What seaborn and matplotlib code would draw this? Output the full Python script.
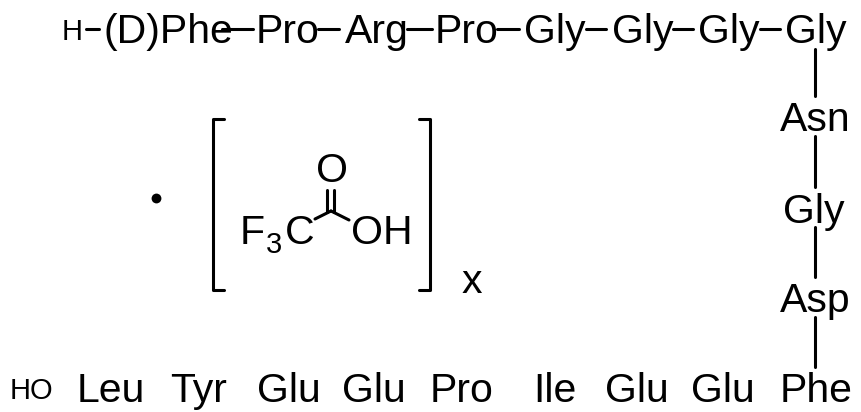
# Peptide structure drawing, pixel coordinates
import pandas as pd
from matplotlib import pyplot as plt
import seaborn as sns

# residue labels
residues = ["(D)Phe", "Pro", "Arg", "Pro", "Gly", "Gly", "Gly", "Gly",
            "Asn", "Gly", "Asp", "Phe",
            "Glu", "Glu", "Ile", "Pro", "Glu", "Glu", "Tyr", "Leu"]
residue_x = [104, 256, 345, 435, 524, 612, 698, 785,
             780, 783, 780, 780,
             691, 605, 533, 430, 342, 257, 170, 77]
residue_y = [43, 43, 43, 43, 43, 43, 43, 43,
             131, 223, 312, 402,
             402, 402, 402, 402, 402, 402, 402, 402]

# small end groups
end_labels = ["H", "HO"]
end_x = [62, 10]
end_y = [40, 399]

# acid part
acid_labels = ["O", "F", "C", "OH", "x"]
acid_x = [316, 240, 285, 351, 462]
acid_y = [182, 244, 244, 244, 293]
sub_label = "3"
sub_x = 266
sub_y = 253

# bonds and brackets as from/to pairs
bond_x0 = [86, 222, 318, 407, 497, 586, 673, 760, 815, 815, 815, 815, 327, 334, 331, 331]
bond_x1 = [99, 253, 339, 432, 519, 606, 693, 780, 815, 815, 815, 815, 327, 334, 315, 349]
bond_y0 = [29, 29, 29, 29, 29, 29, 29, 29, 49, 136, 227, 317, 190, 190, 211, 211]
bond_y1 = [29, 29, 29, 29, 29, 29, 29, 29, 96, 187, 277, 367, 212, 212, 219, 220]

left_bracket_x = [224, 213, 213, 224]
right_bracket_x = [419, 430, 430, 419]
bracket_y = [119, 119, 290, 290]

dot_x = [156]
dot_y = [198]

rows = []
for i in range(len(bond_x0)):
    rows.append({"part": f"bond{i}", "x": bond_x0[i], "y": bond_y0[i]})
    rows.append({"part": f"bond{i}", "x": bond_x1[i], "y": bond_y1[i]})
for xs, name in [(left_bracket_x, "left"), (right_bracket_x, "right")]:
    for x, y in zip(xs, bracket_y):
        rows.append({"part": name, "x": x, "y": y})
df = pd.DataFrame(rows)

sns.set_style("white")
plt.rcParams["font.family"] = ["Liberation Sans", "DejaVu Sans"]

fig = plt.figure(figsize=(8.61, 4.12), dpi=100)
ax = fig.add_axes([0, 0, 1, 1])

sns.lineplot(data=df, x="x", y="y", units="part", estimator=None, sort=False,
             color="black", linewidth=2.2, ax=ax, legend=False)
sns.scatterplot(x=dot_x, y=dot_y, color="black", s=50, linewidth=0, ax=ax)

ax.set_xlim(0, 861)
ax.set_ylim(412, 0)
ax.axis("off")

for name, x, y in zip(residues, residue_x, residue_y):
    ax.text(x, y, name, fontsize=29.5, ha="left", va="baseline", color="black")
for name, x, y in zip(end_labels, end_x, end_y):
    ax.text(x, y, name, fontsize=21, ha="left", va="baseline", color="black")
for name, x, y in zip(acid_labels, acid_x, acid_y):
    ax.text(x, y, name, fontsize=29.5, ha="left", va="baseline", color="black")
ax.text(sub_x, sub_y, sub_label, fontsize=21, ha="left", va="baseline", color="black")

plt.savefig("out.png", dpi=100)
